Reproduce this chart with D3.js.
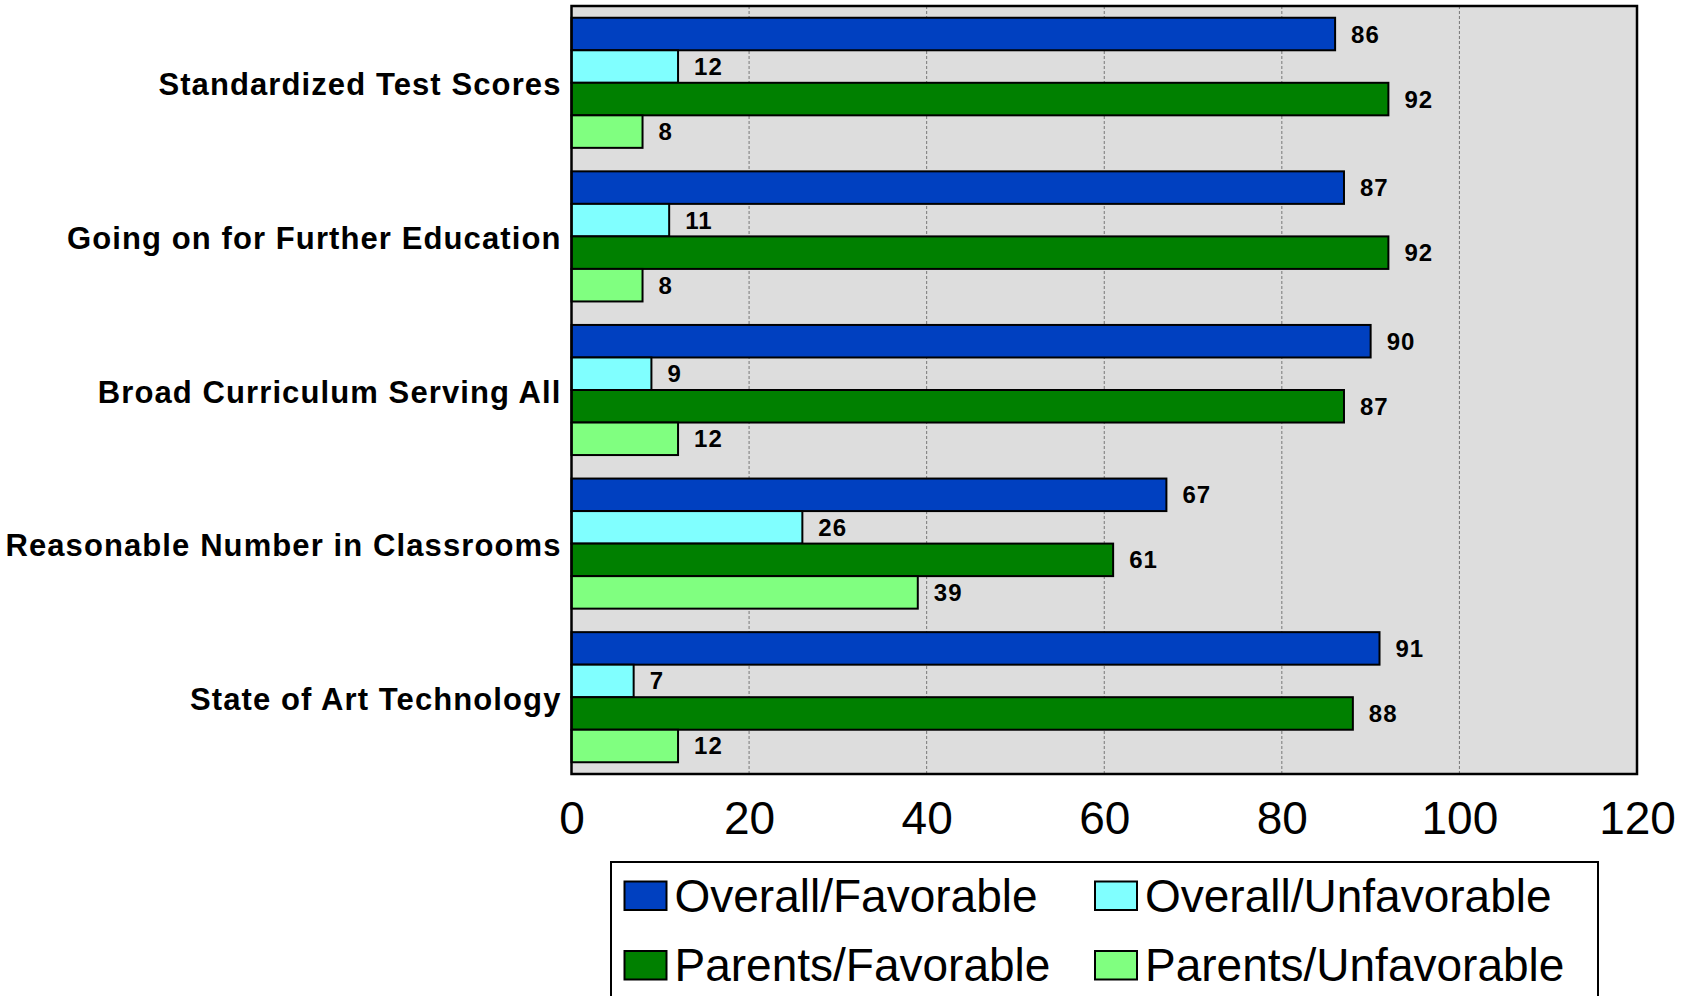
<!DOCTYPE html>
<html lang="en">
<head>
<meta charset="utf-8">
<title>Favorable / Unfavorable</title>
<script src="https://d3js.org/d3.v7.min.js"></script>
<style>
  body { margin: 0; background: #fff; }
  svg { display: block; font-family: "Liberation Sans", Arial, sans-serif; }
  .cat { font-weight: bold; font-size: 31px; letter-spacing: 1.1px; }
  .val { font-weight: bold; font-size: 24px; letter-spacing: 1px; }
  .xaxis text { font-size: 46px; }
  .legend text { font-size: 46px; }
</style>
</head>
<body>
<script>
// data
var categories = ["Standardized Test Scores", "Going on for Further Education",
                  "Broad Curriculum Serving All", "Reasonable Number in Classrooms",
                  "State of Art Technology"];
var seriesNames = ["Overall/Favorable", "Overall/Unfavorable", "Parents/Favorable", "Parents/Unfavorable"];
var overallFav   = [86, 87, 90, 67, 91];
var overallUnfav = [12, 11, 9, 26, 7];
var parentsFav   = [92, 92, 87, 61, 88];
var parentsUnfav = [8, 8, 12, 39, 12];
var xTicks = [0, 20, 40, 60, 80, 100, 120];

var colors = ["#0040C0", "#80FFFF", "#008000", "#80FF80"];
var allSeries = [overallFav, overallUnfav, parentsFav, parentsUnfav];

var W = 1696, H = 996;
var plotL = 571.5, plotR = 1637, plotT = 6, plotB = 774;

var svg = d3.select("body").append("svg")
    .attr("width", W).attr("height", H);

var x = d3.scaleLinear().domain([0, 120]).range([plotL, plotR]);

var y0 = d3.scaleBand().domain(categories).range([plotT, plotB])
    .paddingInner(0.153).paddingOuter(0.0765);
var y1 = d3.scaleBand().domain(seriesNames).range([0, y0.bandwidth()]);

// plot background
svg.append("rect")
    .attr("x", plotL).attr("y", plotT)
    .attr("width", plotR - plotL).attr("height", plotB - plotT)
    .attr("fill", "#DDDDDD");

// grid
svg.selectAll("line.grid")
    .data(xTicks.slice(1, -1))
    .enter().append("line")
    .attr("class", "grid")
    .attr("x1", function(d) { return x(d); })
    .attr("x2", function(d) { return x(d); })
    .attr("y1", plotT).attr("y2", plotB)
    .attr("stroke", "#777").attr("stroke-width", 1)
    .attr("stroke-dasharray", "3,2");

// bars
var rows = [];
categories.forEach(function(c, i) {
  seriesNames.forEach(function(s, j) {
    rows.push({cat: c, ser: s, v: allSeries[j][i], col: colors[j]});
  });
});

svg.selectAll("rect.bar")
    .data(rows)
    .enter().append("rect")
    .attr("class", "bar")
    .attr("x", x(0))
    .attr("y", function(d) { return y0(d.cat) + y1(d.ser); })
    .attr("width", function(d) { return x(d.v) - x(0); })
    .attr("height", y1.bandwidth())
    .attr("fill", function(d) { return d.col; })
    .attr("stroke", "#000").attr("stroke-width", 2);

svg.selectAll("text.val")
    .data(rows)
    .enter().append("text")
    .attr("class", "val")
    .attr("x", function(d) { return x(d.v) + 16; })
    .attr("y", function(d) { return y0(d.cat) + y1(d.ser) + y1.bandwidth() / 2; })
    .attr("dominant-baseline", "central")
    .text(function(d) { return d.v; });

// plot frame
svg.append("rect")
    .attr("x", plotL).attr("y", plotT)
    .attr("width", plotR - plotL).attr("height", plotB - plotT)
    .attr("fill", "none").attr("stroke", "#000").attr("stroke-width", 2.5);

// category labels
svg.selectAll("text.cat")
    .data(categories)
    .enter().append("text")
    .attr("class", "cat")
    .attr("x", plotL - 10)
    .attr("y", function(d) { return y0(d) + y0.bandwidth() / 2 + 2; })
    .attr("text-anchor", "end")
    .attr("dominant-baseline", "central")
    .text(function(d) { return d; });

// x axis labels
var xAxis = d3.axisBottom(x).tickValues(xTicks).tickSize(0).tickPadding(27);
var gx = svg.append("g")
    .attr("class", "xaxis")
    .attr("transform", "translate(0," + plotB + ")")
    .call(xAxis);
gx.select(".domain").remove();
gx.selectAll("text").attr("fill", "#000").attr("font-family", "Liberation Sans, Arial, sans-serif");

// legend
var lg = svg.append("g").attr("class", "legend");
lg.append("rect")
    .attr("x", 611).attr("y", 862)
    .attr("width", 987).attr("height", 150)
    .attr("fill", "#fff").attr("stroke", "#000").attr("stroke-width", 2);

var legX = [624.5, 1095], legY = [881.5, 951];
seriesNames.forEach(function(s, i) {
  var cx = legX[i % 2], cy = legY[Math.floor(i / 2)];
  lg.append("rect")
      .attr("x", cx).attr("y", cy)
      .attr("width", 42).attr("height", 28.5)
      .attr("fill", colors[i]).attr("stroke", "#000").attr("stroke-width", 2);
  lg.append("text")
      .attr("x", cx + 50).attr("y", cy + 30)
      .text(s);
});
</script>
</body>
</html>
